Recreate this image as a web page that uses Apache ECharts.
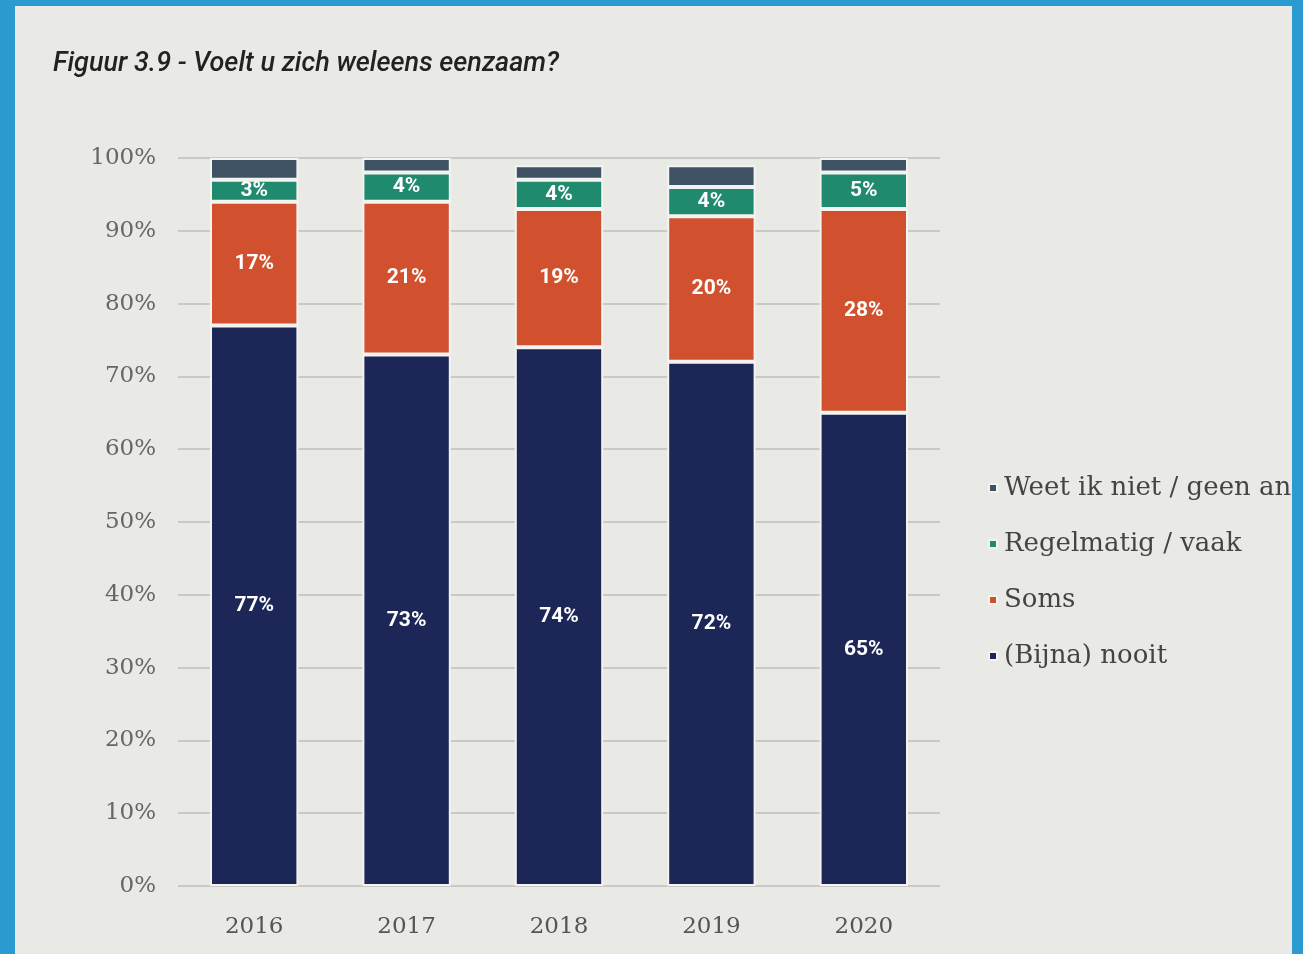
<!DOCTYPE html>
<html><head><meta charset="utf-8">
<script src="https://cdn.jsdelivr.net/npm/echarts@6/dist/echarts.min.js"></script>
<style>
html,body{margin:0;padding:0;background:#2a9ad0;width:1303px;height:954px;overflow:hidden}
#c{position:absolute;left:15px;top:6px;width:1277px;height:948px;background:#e9e9e6}
</style></head>
<body><div id="c"></div>
<script>
const categories = ['2016','2017','2018','2019','2020'];
const nooit = [77,73,74,72,65];
const soms = [17,21,19,20,28];
const regelmatig = [3,4,4,4,5];
const weetniet = [3,2,2,3,2];
const yTicks = ['0%','10%','20%','30%','40%','50%','60%','70%','80%','90%','100%'];

const chart = echarts.init(document.getElementById('c'));
const lbl = {show:true,color:'#fff',fontFamily:'Roboto',fontWeight:'bold',fontSize:21,formatter:p=>p.value+'%'};
const border = {borderColor:'#f3f3f1',borderWidth:2};
chart.setOption({
  backgroundColor:'#e9e9e6',
  title:{text:'Figuur 3.9 - Voelt u zich weleens eenzaam?',left:33,top:40,
    textStyle:{fontFamily:'Roboto',fontStyle:'italic',fontWeight:500,fontSize:27,color:'#222'}},
  legend:{orient:'vertical',left:968,top:464,itemGap:30,itemWidth:8,itemHeight:8,icon:'rect',
    data:['Weet ik niet / geen antwoord','Regelmatig / vaak','Soms','(Bijna) nooit'],
    textStyle:{fontFamily:'DejaVu Serif',fontSize:26,color:'#444',padding:[0,0,0,2]}},
  grid:{left:163,right:1277-925,top:152,bottom:948-880},
  xAxis:{type:'category',data:categories,axisLine:{show:false},axisTick:{show:false},
    axisLabel:{fontFamily:'DejaVu Serif',fontSize:23,color:'#555',margin:30}},
  yAxis:{type:'value',min:0,max:100,interval:10,
    axisLabel:{fontFamily:'DejaVu Serif',fontSize:23,color:'#666',margin:22,formatter:v=>yTicks[v/10]},
    splitLine:{lineStyle:{color:'#c9c9c6',width:2}}},
  series:[
    {name:'(Bijna) nooit',type:'bar',stack:'a',data:nooit,barWidth:'58%',itemStyle:Object.assign({color:'#1c2657'},border),label:lbl},
    {name:'Soms',type:'bar',stack:'a',data:soms,itemStyle:Object.assign({color:'#d1512e'},border),label:lbl},
    {name:'Regelmatig / vaak',type:'bar',stack:'a',data:regelmatig,itemStyle:Object.assign({color:'#1f8a6e'},border),label:lbl},
    {name:'Weet ik niet / geen antwoord',type:'bar',stack:'a',data:weetniet,itemStyle:Object.assign({color:'#3f5264'},border),label:{show:false}}
  ]
});
</script></body></html>
